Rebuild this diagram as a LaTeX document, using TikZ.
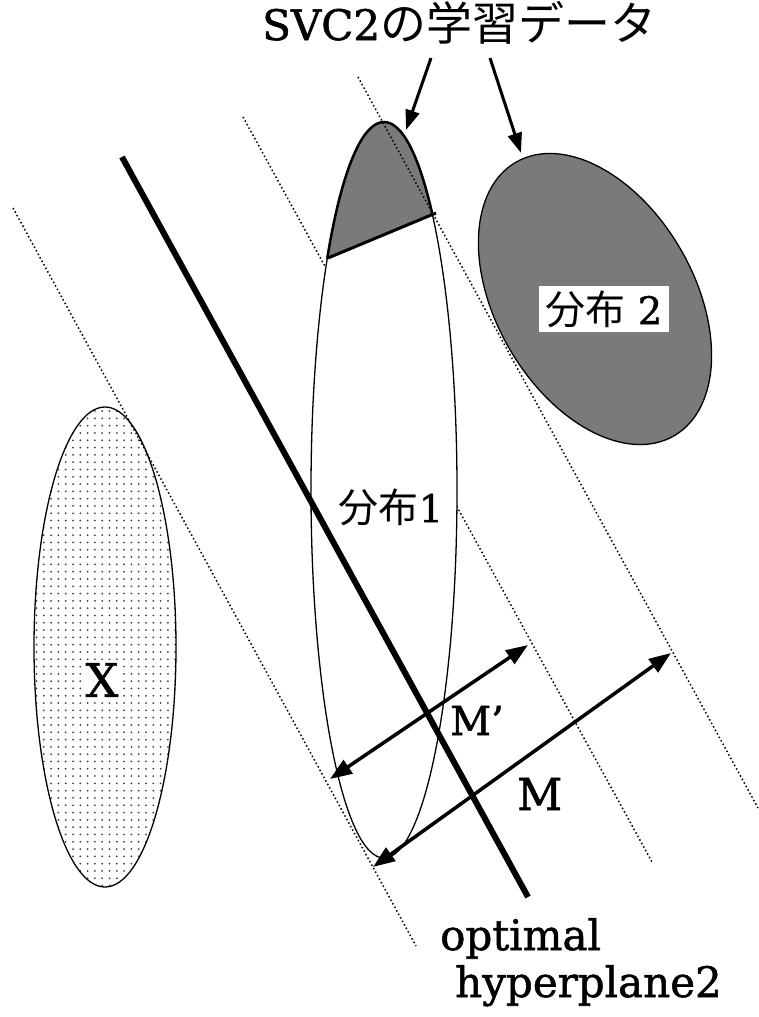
\documentclass[tikz,border=0pt]{standalone}
\usepackage{fontspec}
\setmainfont[FakeBold=1.3,AutoFakeBold=1.3]{DejaVu Serif}
\newfontfamily\cjk{Noto Sans CJK JP}
\usetikzlibrary{arrows.meta,patterns.meta}
\begin{document}
\begin{tikzpicture}[x=1pt,y=-1pt,
  dotline/.style={line width=1.5pt, dash pattern=on 1.5pt off 2.5pt},
  hyper/.style={line width=6pt},
  meas/.style={line width=3.5pt, {Triangle[length=22pt,width=16pt]}-{Triangle[length=22pt,width=16pt]}},
  ptr/.style={line width=3pt, -{Triangle[length=20pt,width=14pt]}},
  outline/.style={line width=1.3pt},
  lbl/.style={inner sep=0pt, font=\bfseries}]
\path[use as bounding box] (0,0) rectangle (759,1017);
% coordinates
\coordinate (d1a) at (13,208);  \coordinate (d1b) at (416,946);
\coordinate (d2a) at (243,117); \coordinate (d2b) at (652,862);
\coordinate (d3a) at (358,77);  \coordinate (d3b) at (758,808);
\coordinate (h1) at (122,157);  \coordinate (h2) at (528,897);
\coordinate (c1) at (384,490);
\coordinate (cx) at (105,647);
\coordinate (c2) at (595,299);
% dotted lines behind ellipse 1
\draw[dotline] (d1a) -- (d1b);
\draw[dotline] (d2a) -- (d2b);
% X ellipse
\draw[outline, pattern={Dots[radius=1pt,distance=7.3pt]}, pattern color=black!75] (cx) ellipse [x radius=71, y radius=240];
% distribution 2
\draw[outline, fill=black!52, rotate around={-60:(c2)}] (c2) ellipse [x radius=158, y radius=99];
% distribution 1
\draw[outline, fill=white] (c1) ellipse [x radius=73, y radius=368];
% shaded cap
\begin{scope}
\clip (250,290.5) -- (520,178) -- (520,0) -- (250,0) -- cycle;
\fill[black!52] (c1) ellipse [x radius=73, y radius=368];
\draw[line width=2.5pt] (c1) ellipse [x radius=73, y radius=368];
\end{scope}
\coordinate (chl) at (328,258); \coordinate (chr) at (436,213);
\draw[line width=3pt] (chl) -- (chr);
\draw[dotline] (d3a) -- (d3b);
% hyperplane
\draw[hyper] (h1) -- (h2);
% measurement arrows
\coordinate (m1a) at (330,779); \coordinate (m1b) at (528,645);
\coordinate (m2a) at (373,867); \coordinate (m2b) at (671,653);
\draw[meas] (m1a) -- (m1b);
\draw[meas] (m2a) -- (m2b);
% labels
\node[lbl, anchor=base west] (title) at (262,40) {\fontsize{42}{50}\selectfont SVC2{\mdseries\cjk\fontsize{46}{50}\selectfont の学習データ}};
\coordinate (p1a) at (431,58); \coordinate (p1b) at (406,130);
\coordinate (p2a) at (490,58); \coordinate (p2b) at (521,153);
\draw[ptr] (p1a) -- (p1b);
\draw[ptr] (p2a) -- (p2b);
\node[fill=white, inner xsep=7pt, inner ysep=4pt, font=\bfseries] (lab2) at (604,309) {\fontsize{38}{40}\selectfont{\mdseries\cjk\fontsize{40}{40}\selectfont 分布} 2};
\node[lbl] (lab1) at (391,507) {\fontsize{38}{40}\selectfont{\mdseries\cjk\fontsize{40}{40}\selectfont 分布}1};
\node[fill=white, inner sep=3pt, font=\bfseries] (labx) at (102,680) {\fontsize{46}{50}\selectfont X};
\node[lbl, anchor=base west] (labmp) at (450,735) {\fontsize{40}{42}\selectfont M’};
\node[lbl, anchor=base west] (labm) at (517,810) {\fontsize{44}{46}\selectfont M};
\node[lbl, anchor=base west] (opt1) at (440,950) {\fontsize{42}{48}\selectfont optimal};
\node[lbl, anchor=base west] (opt2) at (455,997) {\fontsize{42}{48}\selectfont hyperplane2};
\end{tikzpicture}
\end{document}
